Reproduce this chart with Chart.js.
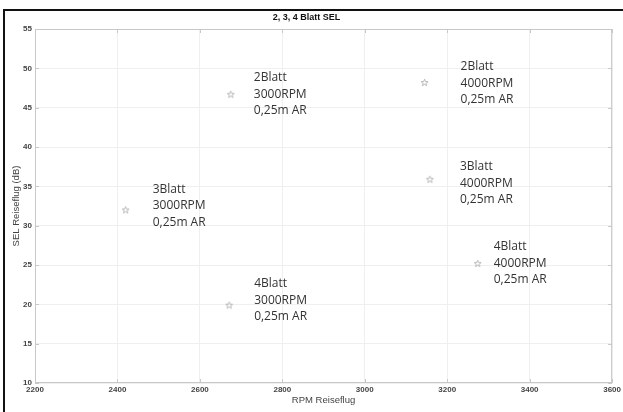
<!DOCTYPE html>
<html lang="de">
<head>
    <meta charset="UTF-8">
    <title>2, 3, 4 Blatt SEL</title>
    <style>
        html, body {
            margin: 0;
            padding: 0;
            background: #fff;
        }
        #wrap {
            width: 623px;
            height: 412px;
        }
    </style>
</head>
<body>
    <div id="wrap"><canvas id="selChart" width="623" height="412"></canvas></div>

    <script src="https://cdn.jsdelivr.net/npm/chart.js"></script>
    <script>
        // Messpunkte
        const blattNames = ['2Blatt', '2Blatt', '3Blatt', '3Blatt', '4Blatt', '4Blatt'];
        const rpmNames = ['3000RPM', '4000RPM', '3000RPM', '4000RPM', '3000RPM', '4000RPM'];
        const arNames = ['0,25m AR', '0,25m AR', '0,25m AR', '0,25m AR', '0,25m AR', '0,25m AR'];
        const rpmReiseflug = [2675, 3145, 2420, 3158, 2671, 3274];
        const selReiseflug = [46.7, 48.2, 32.0, 35.9, 19.9, 25.2];

        const xTicks = [2200, 2400, 2600, 2800, 3000, 3200, 3400, 3600];
        const yTicks = [10, 15, 20, 25, 30, 35, 40, 45, 50, 55];

        // Beschriftungs-Versatz in Pixel (dx, dy der mittleren Zeile)
        const labelOffsets = [[23, 0], [36, 1], [27, -4], [30, 4], [25, -5], [16, 0]];

        const points = rpmReiseflug.map((x, i) => ({ x: x, y: selReiseflug[i] }));

        // kleiner Pentagramm-Marker wie in Matlab
        function makeStar() {
            const c = document.createElement('canvas');
            c.width = 9;
            c.height = 9;
            const g = c.getContext('2d');
            g.strokeStyle = '#a8a8a8';
            g.lineWidth = 0.8;
            g.beginPath();
            for (let i = 0; i < 10; i++) {
                const r = i % 2 === 0 ? 3.6 : 1.5;
                const a = -Math.PI / 2 + i * Math.PI / 5;
                const px = 4.5 + r * Math.cos(a);
                const py = 4.8 + r * Math.sin(a);
                if (i === 0) g.moveTo(px, py); else g.lineTo(px, py);
            }
            g.closePath();
            g.stroke();
            return c;
        }

        // Rahmen, Achsenrahmen und Punktbeschriftungen
        const framePlugin = {
            id: 'frame',
            beforeDraw(chart) {
                const ctx = chart.ctx;
                ctx.save();
                ctx.fillStyle = '#fff';
                ctx.fillRect(0, 0, chart.width, chart.height);
                ctx.fillStyle = '#111';
                ctx.fillRect(3, 9, chart.width - 3, 2);
                ctx.fillRect(3, 9, 2, chart.height - 9);
                ctx.restore();
            },
            afterDatasetsDraw(chart) {
                const ctx = chart.ctx;
                const a = chart.chartArea;
                const xs = chart.scales.x;
                const ys = chart.scales.y;
                ctx.save();
                ctx.strokeStyle = '#c8c8c8';
                ctx.lineWidth = 1;
                ctx.strokeRect(a.left + 0.5, a.top + 0.5, a.right - a.left - 1, a.bottom - a.top - 1);
                // kleine Ticks oben und rechts
                ctx.beginPath();
                xTicks.forEach(v => {
                    const px = Math.round(xs.getPixelForValue(v)) + 0.5;
                    ctx.moveTo(px, a.top); ctx.lineTo(px, a.top + 4);
                    ctx.moveTo(px, a.bottom); ctx.lineTo(px, a.bottom - 4);
                });
                yTicks.forEach(v => {
                    const py = Math.round(ys.getPixelForValue(v)) + 0.5;
                    ctx.moveTo(a.right, py); ctx.lineTo(a.right - 4, py);
                    ctx.moveTo(a.left, py); ctx.lineTo(a.left + 4, py);
                });
                ctx.stroke();

                ctx.fillStyle = '#333';
                ctx.font = '12px "Open Sans", sans-serif';
                ctx.textAlign = 'left';
                ctx.textBaseline = 'middle';
                const lh = 16.5;
                points.forEach((p, i) => {
                    const px = xs.getPixelForValue(p.x) + labelOffsets[i][0];
                    const py = ys.getPixelForValue(p.y) + labelOffsets[i][1];
                    ctx.fillText(blattNames[i], px, py - lh);
                    ctx.fillText(rpmNames[i], px, py);
                    ctx.fillText(arNames[i], px, py + lh);
                });
                ctx.restore();
            }
        };

        const ctx = document.getElementById('selChart').getContext('2d');
        const selChart = new Chart(ctx, {
            type: 'scatter',
            data: {
                datasets: [{
                    label: 'SEL',
                    data: points,
                    pointStyle: makeStar(),
                    pointRadius: 4
                }]
            },
            options: {
                responsive: false,
                animation: false,
                layout: { padding: { left: 0, right: 10, top: 0, bottom: 0 } },
                plugins: {
                    legend: { display: false },
                    tooltip: { enabled: false },
                    title: {
                        display: true,
                        text: '2, 3, 4 Blatt SEL',
                        color: '#111',
                        font: { family: 'Arial, "Liberation Sans", sans-serif', size: 9, weight: 'bold' },
                        padding: { top: 12, bottom: 6.2 }
                    }
                },
                scales: {
                    x: {
                        type: 'linear',
                        min: 2200,
                        max: 3600,
                        afterBuildTicks(scale) {
                            scale.ticks = xTicks.map(v => ({ value: v }));
                        },
                        afterFit(scale) { scale.height = 29; },
                        grid: { color: '#efefef', drawTicks: false },
                        border: { display: false },
                        ticks: {
                            padding: 2,
                            color: '#444',
                            maxRotation: 0,
                            callback: v => String(v),
                            font: { family: 'Arial, "Liberation Sans", sans-serif', size: 8, weight: 'bold' }
                        },
                        title: {
                            display: true,
                            text: 'RPM Reiseflug',
                            color: '#444',
                            font: { family: 'Arial, "Liberation Sans", sans-serif', size: 9.5 },
                            padding: { top: 0, bottom: 5.5 }
                        }
                    },
                    y: {
                        type: 'linear',
                        min: 10,
                        max: 55,
                        afterBuildTicks(scale) {
                            scale.ticks = yTicks.map(v => ({ value: v }));
                        },
                        afterFit(scale) { scale.width = 35; },
                        grid: { color: '#efefef', drawTicks: false },
                        border: { display: false },
                        ticks: {
                            padding: 3,
                            color: '#444',
                            callback: v => String(v),
                            font: { family: 'Arial, "Liberation Sans", sans-serif', size: 8, weight: 'bold' }
                        },
                        title: {
                            display: true,
                            text: 'SEL Reiseflug (dB)',
                            color: '#444',
                            font: { family: 'Arial, "Liberation Sans", sans-serif', size: 9.5 },
                            padding: { top: 10.5, bottom: 0 }
                        }
                    }
                }
            },
            plugins: [framePlugin]
        });
    </script>
</body>
</html>
